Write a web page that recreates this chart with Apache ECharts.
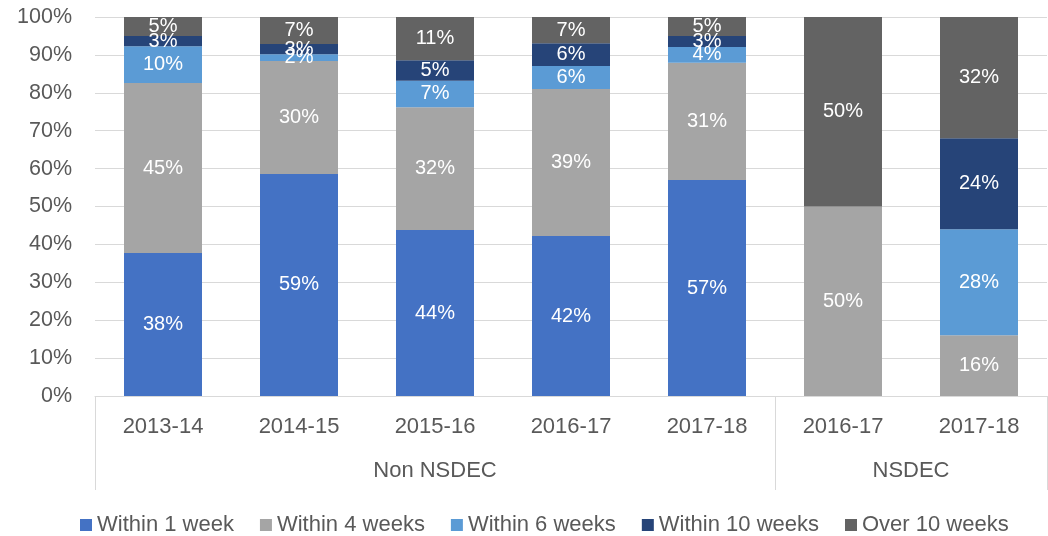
<!DOCTYPE html>
<html>
<head>
<meta charset="utf-8">
<script src="https://cdn.jsdelivr.net/npm/echarts@6/dist/echarts.min.js"></script>
<style>
  html, body { margin: 0; padding: 0; background: #fff; }
  #chart { width: 1048px; height: 536px; }
</style>
</head>
<body>
<div id="chart"></div>
<script>
// categories (year per bar) and the two groups under them
const years = ['2013-14', '2014-15', '2015-16', '2016-17', '2017-18', '2016-17', '2017-18'];
const groupNames = ['Non NSDEC', 'NSDEC'];
const yTicks = [0, 10, 20, 30, 40, 50, 60, 70, 80, 90, 100];

// share of cases, % per bar
const within1Week = [37.7, 58.6, 43.8, 42.2, 57.0, 0, 0];
const within4Weeks = [44.9, 29.8, 32.4, 38.8, 30.9, 50, 16];
const within6Weeks = [9.7, 1.8, 7.0, 6.1, 4.2, 0, 28];
const within10Weeks = [2.7, 2.7, 5.4, 6.0, 2.9, 0, 24];
const over10Weeks = [5.0, 7.1, 11.4, 6.9, 5.0, 50, 32];

const FONT = 'Liberation Sans';
const TEXT = '#595959';
const LINE = '#d9d9d9';

// second axis: 15 points on the boundaries/centres of the 7 bars,
// ticks on group edges, labels on group centres
const groupAxis = [];
for (let i = 0; i < 15; i++) groupAxis.push('');
groupAxis[5] = groupNames[0];
groupAxis[12] = groupNames[1];
const groupEdges = [0, 10, 14];

let chart = echarts.init(document.getElementById('chart'));

function mkSeries(name, data, color) {
  return {
    name: name,
    type: 'bar',
    stack: 'total',
    data: data,
    barWidth: 78,
    itemStyle: { color: color },
    label: {
      show: true,
      position: 'inside',
      color: '#fff',
      fontFamily: FONT,
      fontSize: 20,
      formatter: p => (p.value > 0 ? Math.round(p.value) + '%' : '')
    }
  };
}

let option = {
  animation: false,
  grid: { left: 95, right: 1, top: 17, bottom: 140 },
  legend: {
    top: 509,
    left: 75,
    itemWidth: 12,
    itemHeight: 12,
    itemGap: 26,
    icon: 'rect',
    textStyle: { color: TEXT, fontFamily: FONT, fontSize: 22 }
  },
  xAxis: [
    {
      type: 'category',
      data: years,
      axisLine: { show: true, lineStyle: { color: LINE } },
      axisTick: { show: false },
      axisLabel: { color: TEXT, fontFamily: FONT, fontSize: 22, margin: 20 }
    },
    {
      type: 'category',
      position: 'bottom',
      boundaryGap: false,
      data: groupAxis,
      axisLine: { show: false },
      axisTick: {
        show: true,
        length: 94,
        interval: i => groupEdges.includes(i),
        lineStyle: { color: LINE }
      },
      axisLabel: {
        color: TEXT, fontFamily: FONT, fontSize: 22, margin: 64,
        interval: i => i === 5 || i === 12
      }
    }
  ],
  yAxis: {
    type: 'value',
    min: yTicks[0],
    max: yTicks[yTicks.length - 1],
    interval: yTicks[1] - yTicks[0],
    axisLine: { show: false },
    axisTick: { show: false },
    splitLine: { lineStyle: { color: LINE, width: 1 } },
    axisLabel: { color: TEXT, fontFamily: FONT, fontSize: 21.5, margin: 23, formatter: '{value}%' }
  },
  series: [
    mkSeries('Within 1 week', within1Week, '#4472c4'),
    mkSeries('Within 4 weeks', within4Weeks, '#a5a5a5'),
    mkSeries('Within 6 weeks', within6Weeks, '#5b9bd5'),
    mkSeries('Within 10 weeks', within10Weeks, '#264478'),
    mkSeries('Over 10 weeks', over10Weeks, '#636363')
  ]
};

chart.setOption(option);
</script>
</body>
</html>
